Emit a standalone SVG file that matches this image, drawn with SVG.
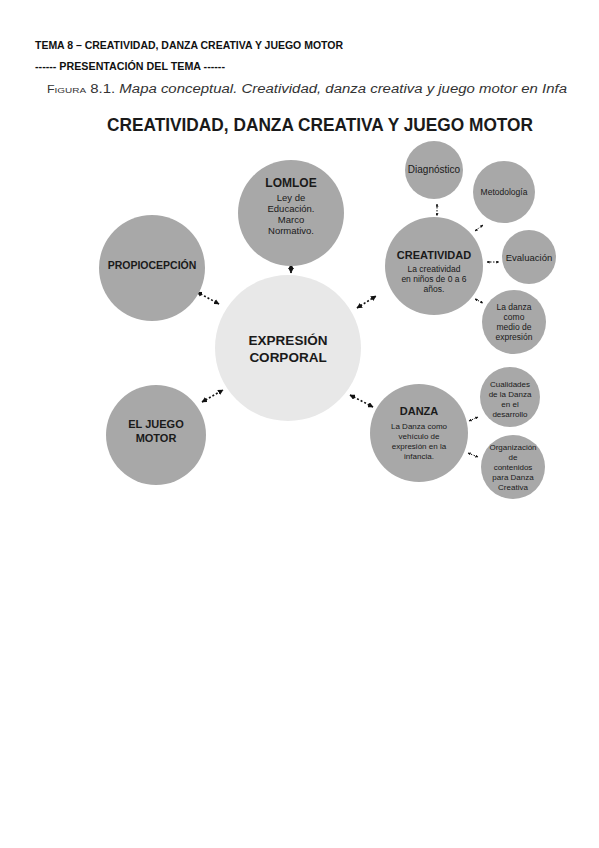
<svg xmlns="http://www.w3.org/2000/svg" width="599" height="848" viewBox="0 0 599 848">
<style>
.hd{font-family:"Liberation Sans",Arial,sans-serif;font-weight:bold;fill:#111;}
.fig{font-family:"Liberation Sans",Arial,sans-serif;fill:#333;}
.ttl{font-family:"Liberation Sans",Arial,sans-serif;font-weight:bold;fill:#1a1a1a;}
.node{fill:#a8a8a8;}
.ctr{fill:#e8e8e8;}
.nt{font-family:"Liberation Sans",Arial,sans-serif;font-weight:bold;fill:#1a1a1a;text-anchor:middle;}
.st{font-family:"Liberation Sans",Arial,sans-serif;fill:#1a1a1a;text-anchor:middle;}
.con{stroke:#111;stroke-width:1.6;stroke-dasharray:2 2;fill:none;marker-start:url(#ah);marker-end:url(#ah);}
.cs{stroke:#111;stroke-width:1;stroke-dasharray:1.5 1.5;fill:none;marker-start:url(#ahs);marker-end:url(#ahs);}
</style>
<defs>
<marker id="ah" viewBox="0 0 10 10" refX="9" refY="5" markerWidth="3.5" markerHeight="3.5" orient="auto-start-reverse"><path d="M0,0 L10,5 L0,10 z" fill="#111"/></marker>
<marker id="ahs" viewBox="0 0 10 10" refX="9" refY="5" markerWidth="3" markerHeight="3" orient="auto-start-reverse"><path d="M0,0 L10,5 L0,10 z" fill="#111"/></marker>
</defs>
<rect width="599" height="848" fill="#fff"/>
<text class="hd" x="35" y="49" font-size="11" textLength="308" lengthAdjust="spacingAndGlyphs">TEMA 8 – CREATIVIDAD, DANZA CREATIVA Y JUEGO MOTOR</text>
<text class="hd" x="35" y="70" font-size="11" textLength="190" lengthAdjust="spacingAndGlyphs">------ PRESENTACIÓN DEL TEMA ------</text>
<text class="fig" x="47" y="93" font-size="12" textLength="520" lengthAdjust="spacingAndGlyphs"><tspan font-size="10">F</tspan><tspan font-size="8">IGURA</tspan> 8.1. <tspan font-style="italic">Mapa conceptual. Creatividad, danza creativa y juego motor en Infa</tspan></text>
<text class="ttl" x="107" y="131" font-size="18" textLength="426" lengthAdjust="spacingAndGlyphs">CREATIVIDAD, DANZA CREATIVA Y JUEGO MOTOR</text>

<g id="connectors">
<line class="con" x1="197" y1="292" x2="219" y2="304"/>
<line class="con" x1="291" y1="264" x2="291" y2="273"/>
<line class="con" x1="357" y1="308" x2="376" y2="296"/>
<line class="con" x1="202" y1="402" x2="223" y2="390"/>
<line class="con" x1="350" y1="395" x2="373" y2="407"/>
<line class="cs" x1="437" y1="204" x2="437" y2="216"/>
<line class="cs" x1="475" y1="231" x2="483" y2="225"/>
<line class="cs" x1="487" y1="262" x2="499" y2="262"/>
<line class="cs" x1="475" y1="299" x2="483" y2="303"/>
<line class="cs" x1="469" y1="421" x2="478" y2="417"/>
<line class="cs" x1="468" y1="453" x2="478" y2="457"/>
</g>

<g id="expresion">
<circle class="ctr" cx="288" cy="348" r="73"/>
<text class="nt" x="288" y="345" font-size="13.5">EXPRESIÓN</text>
<text class="nt" x="288" y="362" font-size="13.5">CORPORAL</text>
</g>
<g id="lomloe">
<circle class="node" cx="291" cy="213" r="53"/>
<text class="nt" x="291" y="187" font-size="12">LOMLOE</text>
<text class="st" x="291" y="201" font-size="9.5">Ley de</text>
<text class="st" x="291" y="212" font-size="9.5">Educación.</text>
<text class="st" x="291" y="223" font-size="9.5">Marco</text>
<text class="st" x="291" y="234" font-size="9.5">Normativo.</text>
</g>
<g id="propiocepcion">
<circle class="node" cx="152" cy="268" r="53"/>
<text class="nt" x="152" y="269" font-size="10.5">PROPIOCEPCIÓN</text>
</g>
<g id="juego">
<circle class="node" cx="156" cy="435" r="50"/>
<text class="nt" x="156" y="428" font-size="11">EL JUEGO</text>
<text class="nt" x="156" y="442" font-size="11">MOTOR</text>
</g>
<g id="creatividad">
<circle class="node" cx="434" cy="266" r="49"/>
<text class="nt" x="434" y="259" font-size="11">CREATIVIDAD</text>
<text class="st" x="434" y="272" font-size="8.5">La creatividad</text>
<text class="st" x="434" y="282" font-size="8.5">en niños de 0 a 6</text>
<text class="st" x="434" y="292" font-size="8.5">años.</text>
</g>
<g id="diagnostico">
<circle class="node" cx="434" cy="170" r="29"/>
<text class="st" x="434" y="173" font-size="10">Diagnóstico</text>
</g>
<g id="metodologia">
<circle class="node" cx="504" cy="192" r="31"/>
<text class="st" x="504" y="195" font-size="8.5">Metodología</text>
</g>
<g id="evaluacion">
<circle class="node" cx="529" cy="257" r="27"/>
<text class="st" x="529" y="261" font-size="9.5">Evaluación</text>
</g>
<g id="ladanza">
<circle class="node" cx="514" cy="322" r="32"/>
<text class="st" x="514" y="310" font-size="8.5">La danza</text>
<text class="st" x="514" y="320" font-size="8.5">como</text>
<text class="st" x="514" y="330" font-size="8.5">medio de</text>
<text class="st" x="514" y="340" font-size="8.5">expresión</text>
</g>
<g id="danza">
<circle class="node" cx="419" cy="433" r="49"/>
<text class="nt" x="419" y="415" font-size="11">DANZA</text>
<text class="st" x="419" y="429" font-size="8">La Danza como</text>
<text class="st" x="419" y="439" font-size="8">vehículo de</text>
<text class="st" x="419" y="449" font-size="8">expresión en la</text>
<text class="st" x="419" y="459" font-size="8">infancia.</text>
</g>
<g id="cualidades">
<circle class="node" cx="510" cy="397" r="30"/>
<text class="st" x="510" y="387" font-size="8">Cualidades</text>
<text class="st" x="510" y="397" font-size="8">de la Danza</text>
<text class="st" x="510" y="407" font-size="8">en el</text>
<text class="st" x="510" y="417" font-size="8">desarrollo</text>
</g>
<g id="organizacion">
<circle class="node" cx="513" cy="467" r="32"/>
<text class="st" x="513" y="450" font-size="8">Organización</text>
<text class="st" x="513" y="460" font-size="8">de</text>
<text class="st" x="513" y="470" font-size="8">contenidos</text>
<text class="st" x="513" y="480" font-size="8">para Danza</text>
<text class="st" x="513" y="490" font-size="8">Creativa</text>
</g>
</svg>
